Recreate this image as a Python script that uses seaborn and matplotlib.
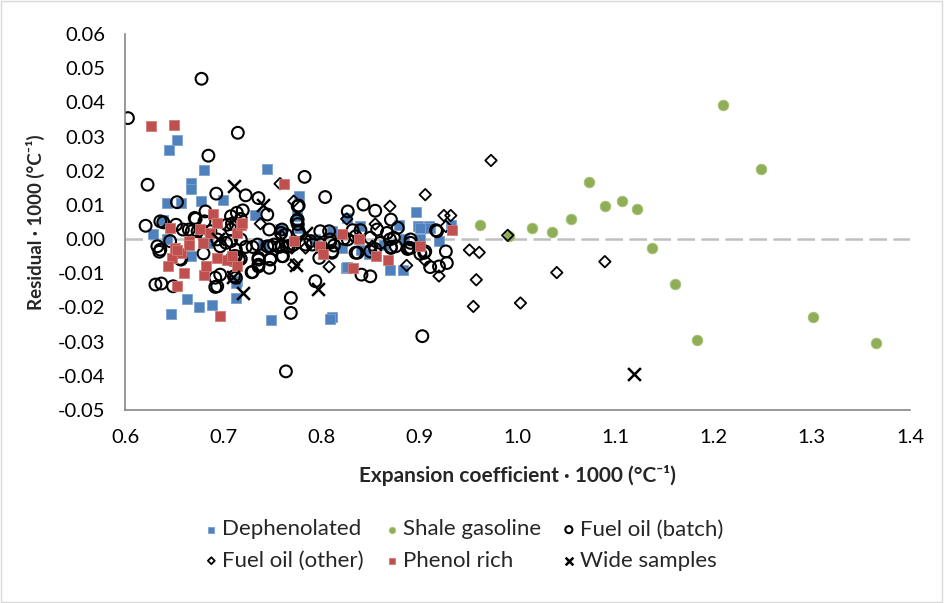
import numpy as np
import pandas as pd
import seaborn as sns
import matplotlib.pyplot as plt
import matplotlib.ticker as ticker
from matplotlib.patches import Rectangle

# ---- data (expansion coef * 1000, residual * 1000)
deph_x = [0.653, 0.645, 0.680, 0.745, 0.667, 0.667, 0.643, 0.657, 0.677, 0.700,
          0.732, 0.775, 0.639, 0.777, 0.897, 0.826, 0.899, 0.910, 0.932, 0.839,
          0.629, 0.663, 0.647, 0.675, 0.689, 0.713, 0.749, 0.714, 0.811, 0.809,
          0.643, 0.667, 0.685, 0.758, 0.777, 0.794, 0.811, 0.821, 0.825, 0.741,
          0.879, 0.901, 0.911, 0.840, 0.849, 0.884, 0.901, 0.920, 0.826, 0.870,
          0.883, 0.864, 0.713]
deph_y = [0.0289, 0.0262, 0.0202, 0.0206, 0.0164, 0.0147, 0.0106, 0.0106, 0.0110, 0.0113,
          0.0070, 0.0067, 0.0057, 0.0127, 0.0080, 0.0062, 0.0037, 0.0037, 0.0042, 0.0037,
          0.0015, -0.0175, -0.0218, -0.0198, -0.0192, -0.0172, -0.0238, -0.0123, -0.0227, -0.0235,
          0.0000, -0.0050, -0.0011, 0.0030, 0.0033, -0.0001, 0.0023, -0.0026, -0.0084, -0.0016,
          0.0042, 0.0033, 0.0031, -0.0031, -0.0045, -0.0001, -0.0001, -0.0006, -0.0081, -0.0089,
          -0.0089, -0.0016, -0.0127]

shale_x = [0.962, 0.991, 1.015, 1.035, 1.055, 1.073, 1.089, 1.106, 1.122, 1.137,
           1.161, 1.183, 1.209, 1.248, 1.301, 1.365]
shale_y = [0.0040, 0.0008, 0.0033, 0.0021, 0.0060, 0.0168, 0.0097, 0.0111, 0.0089, -0.0027,
           -0.0132, -0.0296, 0.0393, 0.0206, -0.0229, -0.0305]

batch_x = [0.603, 0.678, 0.715, 0.685, 0.623, 0.653, 0.693, 0.723, 0.736, 0.745,
           0.682, 0.720, 0.708, 0.671, 0.621, 0.636, 0.639, 0.652, 0.776, 0.665,
           0.674, 0.704, 0.709, 0.633, 0.636, 0.635, 0.656, 0.680, 0.631, 0.637,
           0.649, 0.692, 0.692, 0.730, 0.711, 0.716, 0.735, 0.745, 0.752, 0.760,
           0.736, 0.748, 0.760, 0.747, 0.736, 0.769, 0.769, 0.759, 0.764, 0.680,
           0.687, 0.764, 0.903, 0.672, 0.681, 0.714, 0.659, 0.668, 0.708, 0.713,
           0.646, 0.657, 0.697, 0.703, 0.694, 0.708, 0.713, 0.697, 0.694, 0.783,
           0.718, 0.804, 0.776, 0.777, 0.776, 0.747, 0.760, 0.799, 0.808, 0.708,
           0.718, 0.723, 0.730, 0.748, 0.757, 0.765, 0.784, 0.789, 0.809, 0.813,
           0.823, 0.713, 0.718, 0.736, 0.748, 0.761, 0.798, 0.811, 0.736, 0.729,
           0.711, 0.713, 0.794, 0.827, 0.843, 0.855, 0.871, 0.878, 0.917, 0.832,
           0.840, 0.857, 0.827, 0.835, 0.867, 0.874, 0.870, 0.871, 0.876, 0.850,
           0.855, 0.891, 0.888, 0.891, 0.837, 0.901, 0.906, 0.927, 0.928, 0.911,
           0.920, 0.841, 0.850, 0.767, 0.772, 0.791, 0.799, 0.809, 0.811, 0.835,
           0.850, 0.860, 0.871, 0.889, 0.891, 0.905, 0.777, 0.775, 0.918]
batch_y = [0.0354, 0.0469, 0.0311, 0.0244, 0.0159, 0.0108, 0.0133, 0.0128, 0.0120, 0.0072,
           0.0081, 0.0084, 0.0067, 0.0062, 0.0039, 0.0052, 0.0049, 0.0042, 0.0096, 0.0028,
           0.0023, 0.0042, 0.0045, -0.0021, -0.0031, -0.0037, -0.0058, -0.0042, -0.0133, -0.0130,
           -0.0138, -0.0113, -0.0140, -0.0096, -0.0050, -0.0060, -0.0016, -0.0021, -0.0016, -0.0021,
           -0.0060, -0.0060, -0.0050, -0.0084, -0.0080, -0.0172, -0.0216, 0.0018, 0.0013, 0.0018,
           0.0023, -0.0387, -0.0284, 0.0059, 0.0052, 0.0077, 0.0028, 0.0023, 0.0028, 0.0042,
           -0.0006, -0.0060, -0.0021, -0.0011, -0.0001, -0.0060, -0.0031, -0.0104, -0.0138, 0.0182,
           0.0059, 0.0123, 0.0057, 0.0023, 0.0044, 0.0028, 0.0028, 0.0023, 0.0023, -0.0006,
           -0.0001, -0.0023, -0.0023, -0.0021, -0.0023, -0.0023, -0.0016, -0.0006, -0.0001, -0.0019,
           0.0001, -0.0050, -0.0058, -0.0055, -0.0058, -0.0050, -0.0055, -0.0040, -0.0075, -0.0097,
           -0.0109, -0.0113, -0.0123, 0.0081, 0.0101, 0.0083, 0.0057, 0.0033, 0.0026, 0.0026,
           0.0026, 0.0028, -0.0001, 0.0008, 0.0018, 0.0004, -0.0001, -0.0023, -0.0021, 0.0004,
           -0.0029, -0.0001, -0.0029, -0.0026, -0.0040, -0.0043, -0.0036, -0.0036, -0.0070, -0.0082,
           -0.0080, -0.0104, -0.0109, -0.0021, -0.0016, -0.0016, -0.0016, -0.0011, -0.0036, -0.0040,
           -0.0036, -0.0011, -0.0026, -0.0026, -0.0011, -0.0040, 0.0098, 0.0054, 0.0023]

other_x = [0.973, 0.951, 0.961, 0.958, 0.955, 0.990, 1.003, 1.040, 1.089, 0.906,
           0.925, 0.932, 0.927, 0.870, 0.826, 0.855, 0.852, 0.887, 0.920, 0.906,
           0.758, 0.772, 0.738, 0.759, 0.770, 0.784, 0.808, 0.772]
other_y = [0.0230, -0.0032, -0.0039, -0.0119, -0.0197, 0.0011, -0.0187, -0.0098, -0.0066, 0.0130,
           0.0069, 0.0069, 0.0037, 0.0096, 0.0059, 0.0044, -0.0021, -0.0077, -0.0108, -0.0063,
           0.0162, 0.0111, 0.0045, 0.0010, -0.0026, -0.0026, -0.0081, -0.0075]

phenol_x = [0.626, 0.650, 0.762, 0.690, 0.694, 0.646, 0.676, 0.665, 0.679, 0.651,
            0.657, 0.648, 0.644, 0.660, 0.680, 0.683, 0.653, 0.694, 0.704, 0.714,
            0.687, 0.714, 0.718, 0.653, 0.665, 0.697, 0.772, 0.719, 0.799, 0.802,
            0.821, 0.709, 0.933, 0.838, 0.901, 0.856, 0.868, 0.832]
phenol_y = [0.0330, 0.0333, 0.0161, 0.0072, 0.0047, 0.0033, 0.0030, -0.0006, -0.0011, -0.0026,
            -0.0040, -0.0055, -0.0080, -0.0099, -0.0104, -0.0080, -0.0138, -0.0055, -0.0060, -0.0080,
            0.0018, 0.0018, 0.0042, -0.0031, -0.0016, -0.0226, -0.0006, 0.0047, -0.0021, -0.0045,
            0.0016, -0.0050, 0.0028, -0.0001, -0.0019, -0.0050, -0.0062, -0.0084]

wide_x = [0.711, 0.741, 0.784, 0.695, 0.774, 0.710, 0.720, 0.797, 1.119]
wide_y = [0.0154, 0.0101, 0.0019, -0.0001, -0.0077, -0.0110, -0.0159, -0.0145, -0.0396]

x_ticks = [0.6, 0.7, 0.8, 0.9, 1.0, 1.1, 1.2, 1.3, 1.4]
y_ticks = [-0.05, -0.04, -0.03, -0.02, -0.01, 0.0, 0.01, 0.02, 0.03, 0.04, 0.05, 0.06]

sns.set_style("white")
plt.rcParams['font.family'] = ['Lato', 'DejaVu Sans']

fig = plt.figure(figsize=(9.44, 6.03), dpi=100)
ax = fig.add_axes([125 / 944, 1 - 410 / 603, 785 / 944, 376 / 603])

ax.axhline(0, color='#c0c0c0', lw=1.8, dashes=(7, 2.6), zorder=0)

series = [
    ("Dephenolated", deph_x, deph_y, dict(marker='s', s=58, color='#4f81bd', edgecolor='#7da0d0', linewidth=0.6)),
    ("Shale gasoline", shale_x, shale_y, dict(marker='o', s=58, color='#90ae58', edgecolor='#a6c173', linewidth=0.6)),
    ("Fuel oil (batch)", batch_x, batch_y, dict(marker='o', s=72, facecolor='none', edgecolor='black', linewidth=1.5)),
    ("Fuel oil (other)", other_x, other_y, dict(marker='D', s=34, facecolor='none', edgecolor='black', linewidth=1.3)),
    ("Phenol rich", phenol_x, phenol_y, dict(marker='s', s=58, color='#c0504d', edgecolor='#d27b78', linewidth=0.6)),
    ("Wide samples", wide_x, wide_y, dict(marker='x', s=85, color='black', linewidth=1.8)),
]

handles = {}
for name, xs, ys, style in series:
    df = pd.DataFrame({"x": xs, "y": ys})
    sns.scatterplot(data=df, x="x", y="y", ax=ax, legend=False, **style)
    handles[name] = ax.collections[-1]

ax.set_xlim(0.6, 1.4)
ax.set_ylim(-0.05, 0.06)
ax.set_xticks(x_ticks)
ax.set_yticks(y_ticks)
ax.xaxis.set_major_formatter(ticker.FormatStrFormatter('%.1f'))
ax.yaxis.set_major_formatter(ticker.FormatStrFormatter('%.2f'))
ax.tick_params(axis='both', labelsize=14.5, colors='black', direction='out', length=5,
               width=1)
ax.tick_params(axis='both', color='#868686')
ax.tick_params(axis='y', pad=9)
ax.tick_params(axis='x', pad=9)

for side in ['top', 'right']:
    ax.spines[side].set_visible(False)
for side in ['left', 'bottom']:
    ax.spines[side].set_color('#868686')
    ax.spines[side].set_linewidth(1.2)

ax.set_xlabel("Expansion coefficient · 1000 (°C\u207b\u00b9)", fontsize=15, fontweight='bold')
ax.set_ylabel("Residual · 1000 (°C\u207b\u00b9)", fontsize=13.5, fontweight='bold')
ax.xaxis.set_label_coords(0.5, -0.145)
ax.yaxis.set_label_coords(-0.102, 0.5)

order = ["Dephenolated", "Fuel oil (other)", "Shale gasoline", "Phenol rich",
         "Fuel oil (batch)", "Wide samples"]
leg = fig.legend([handles[k] for k in order], order, loc='center', ncol=3,
                 bbox_to_anchor=(464 / 944, 1 - 545 / 603), frameon=False,
                 fontsize=16, markerscale=0.6, handletextpad=0.2, columnspacing=0.95,
                 labelspacing=0.5, handlelength=0.6)

fig.patches.append(Rectangle((0.001, 0.002), 0.997, 0.996, transform=fig.transFigure,
                             fill=False, edgecolor='#d9d9d9', linewidth=1))

fig.savefig("out.png", dpi=100)
